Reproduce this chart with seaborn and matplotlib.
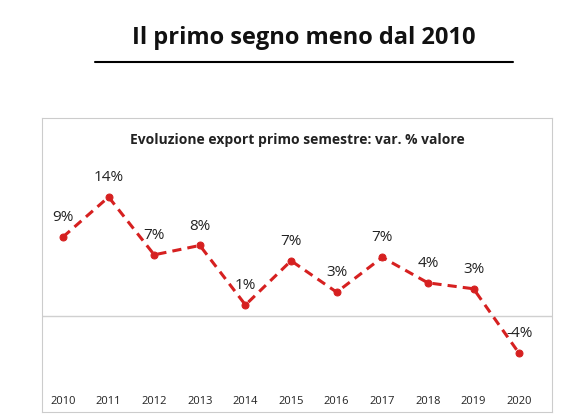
import matplotlib
matplotlib.use("Agg")
import matplotlib.pyplot as plt
import seaborn as sns
import pandas as pd
from matplotlib.lines import Line2D

years = [2010, 2011, 2012, 2013, 2014, 2015, 2016, 2017, 2018, 2019, 2020]
values = [9.3, 14.0, 7.2, 8.3, 1.3, 6.5, 2.8, 6.9, 3.9, 3.2, -4.4]
labels = ["9%", "14%", "7%", "8%", "1%", "7%", "3%", "7%", "4%", "3%", "-4%"]

df = pd.DataFrame({"x": range(len(years)), "v": values})

sns.set_theme(style="white")
plt.rcParams['font.family'] = ['Open Sans', 'DejaVu Sans']
fig = plt.figure(figsize=(5.88, 4.16), dpi=100)
W, H = 588, 416
ax = fig.add_axes([42 / W, 4 / H, 510 / W, 294 / H])
sns.lineplot(data=df, x="x", y="v", ax=ax, color="#d62020", lw=2.2,
             linestyle=(0, (3, 2)), marker="o", markersize=5,
             markeredgecolor="#d62020")
ax.axhline(0, color="#d0d0d0", lw=1, zorder=0)
ax.set_xlim(-0.46, 10.72)
ax.set_ylim(-11.3, 23.3)
ax.set_xticks([]); ax.set_yticks([])
ax.set_xlabel(""); ax.set_ylabel("")
for s in ax.spines.values():
    s.set_color("#cccccc"); s.set_linewidth(0.8)
for i, (v, l) in enumerate(zip(values, labels)):
    ax.text(i, v + 1.4, l, ha="center", va="bottom", fontsize=11, color="#222222")
    ax.text(i, -10.1, str(years[i]), ha="center", va="center", fontsize=8, color="#222222")
ax.text(0.5, 0.925, "Evoluzione export primo semestre: var. % valore",
        transform=ax.transAxes, ha="center", va="center", fontsize=10,
        fontweight="bold", color="#222222")

fig.text(304 / W, 1 - 38 / H, "Il primo segno meno dal 2010", ha="center",
         va="center", fontsize=17, fontweight="bold", color="#111111")
fig.add_artist(Line2D([95 / W, 513 / W], [1 - 62 / H, 1 - 62 / H], color="black", lw=1.5))
fig.savefig("out.png", dpi=100, facecolor="white")
